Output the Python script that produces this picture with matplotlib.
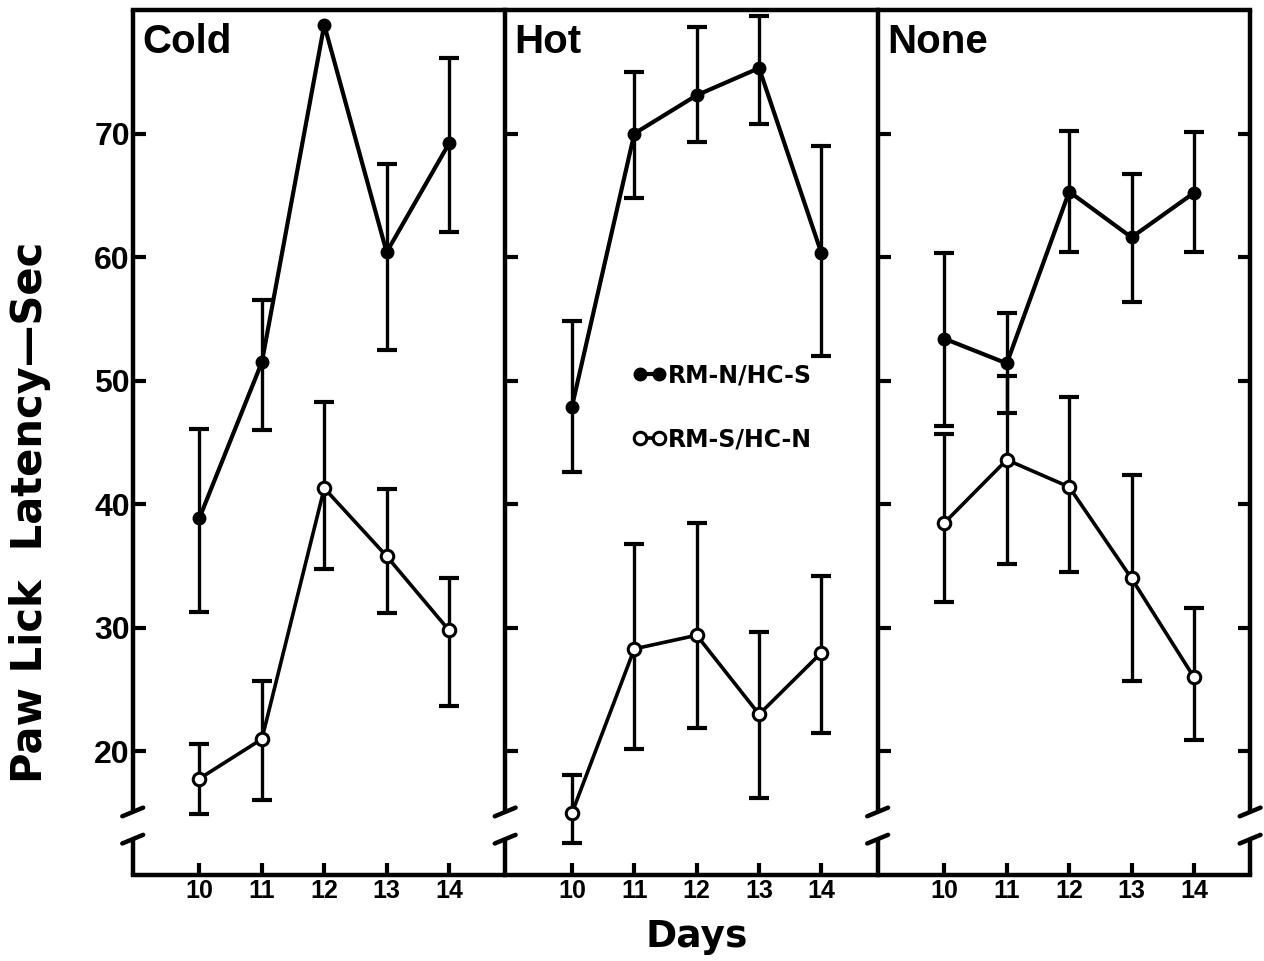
import numpy as np
import matplotlib.pyplot as plt

days = [10, 11, 12, 13, 14]
panels = ['Cold', 'Hot', 'None']

# RM-N/HC-S (filled) : mean, lower bar end, upper bar end
filled_mean = {
    'Cold': [38.9, 51.5, 78.8, 60.4, 69.2],
    'Hot': [47.9, 70.0, 73.1, 75.3, 60.3],
    'None': [53.4, 51.4, 65.3, 61.6, 65.2],
}
filled_lo = {
    'Cold': [31.3, 46.0, np.nan, 52.5, 62.0],
    'Hot': [42.6, 64.8, 69.3, 70.8, 52.0],
    'None': [46.3, 47.4, 60.4, 56.4, 60.4],
}
filled_hi = {
    'Cold': [46.1, 56.5, np.nan, 67.5, 76.1],
    'Hot': [54.8, 75.0, 78.6, 79.5, 69.0],
    'None': [60.3, 55.5, 70.2, 66.7, 70.1],
}

# RM-S/HC-N (open)
open_mean = {
    'Cold': [17.8, 21.0, 41.3, 35.8, 29.8],
    'Hot': [15.0, 28.3, 29.4, 23.0, 28.0],
    'None': [38.5, 43.6, 41.4, 34.0, 26.0],
}
open_lo = {
    'Cold': [14.9, 16.1, 34.8, 31.2, 23.7],
    'Hot': [12.6, 20.2, 21.9, 16.2, 21.5],
    'None': [32.1, 35.2, 34.5, 25.7, 20.9],
}
open_hi = {
    'Cold': [20.6, 25.7, 48.3, 41.2, 34.0],
    'Hot': [18.1, 36.8, 38.5, 29.7, 34.2],
    'None': [45.7, 50.4, 48.7, 42.4, 31.6],
}

yticks = [20, 30, 40, 50, 60, 70]

plt.rcParams['font.family'] = ['Liberation Sans', 'DejaVu Sans']
plt.rcParams['font.weight'] = 'bold'

fig, axes = plt.subplots(1, 3, figsize=(12.64, 9.61), dpi=100, sharey=True)
fig.subplots_adjust(left=0.105, right=0.989, bottom=0.0895, top=0.9896, wspace=0)

LW = 3.2
brk_lo, brk_hi = 12.9, 15.1


def broken_spine(ax, x):
    tr = ax.get_yaxis_transform()
    ax.plot([x, x], [brk_hi, 80], transform=tr, color='k', lw=LW, clip_on=False,
            solid_capstyle='butt', zorder=5)
    ax.plot([x, x], [10, brk_lo], transform=tr, color='k', lw=LW, clip_on=False,
            solid_capstyle='butt', zorder=5)
    for yb in (brk_hi, brk_lo):
        ax.plot([x - 0.028, x + 0.028], [yb - 0.35, yb + 0.35], transform=tr,
                color='k', lw=LW, clip_on=False, solid_capstyle='round', zorder=5)


for i, (ax, name) in enumerate(zip(axes, panels)):
    m = np.array(filled_mean[name])
    lo = np.array(filled_lo[name])
    hi = np.array(filled_hi[name])
    ax.errorbar(days, m, yerr=[m - lo, hi - m], fmt='none', ecolor='k',
                elinewidth=2.4, capsize=7, capthick=3.0, zorder=2)
    ax.plot(days, m, color='k', lw=3.0, marker='o', markersize=9,
            markerfacecolor='k', markeredgecolor='k', zorder=3,
            label='RM-N/HC-S')

    m2 = np.array(open_mean[name])
    lo2 = np.array(open_lo[name])
    hi2 = np.array(open_hi[name])
    ax.errorbar(days, m2, yerr=[m2 - lo2, hi2 - m2], fmt='none', ecolor='k',
                elinewidth=2.4, capsize=7, capthick=3.0, zorder=2)
    ax.plot(days, m2, color='k', lw=2.6, marker='o', markersize=9,
            markerfacecolor='white', markeredgecolor='k', markeredgewidth=2.2,
            zorder=3, label='RM-S/HC-N')

    ax.set_xlim(8.93, 14.9)
    ax.set_ylim(10, 80)
    ax.set_xticks(days)
    ax.set_xticklabels([str(d) for d in days], fontsize=18, fontweight='bold')
    ax.set_yticks(yticks)

    ax.spines['left'].set_visible(False)
    ax.spines['right'].set_visible(False)
    ax.spines['top'].set_linewidth(LW)
    ax.spines['bottom'].set_linewidth(LW)
    broken_spine(ax, 0)
    if i == 2:
        broken_spine(ax, 1)
        ax.tick_params(axis='y', right=True)

    ax.tick_params(axis='both', direction='in', length=9, width=3, pad=3)
    ax.tick_params(axis='y', labelsize=23, pad=2)
    if i > 0:
        ax.tick_params(axis='y', labelleft=False)

    ax.text(0.025, 0.985, name, transform=ax.transAxes, fontsize=29,
            fontweight='bold', ha='left', va='top')

for lab in axes[0].get_yticklabels():
    lab.set_fontweight('bold')

axes[1].legend(loc='upper left', bbox_to_anchor=(0.285, 0.616), frameon=False,
               numpoints=2, handlelength=1.4, handletextpad=0.1,
               labelspacing=1.7, prop={'family': 'DejaVu Sans', 'weight': 'bold', 'size': 17})

fig.text(0.024, 0.467, 'Paw Lick  Latency\u2014Sec', rotation=90, ha='center',
         va='center', fontsize=30, fontweight='bold', family='DejaVu Sans')
fig.text(0.551, 0.025, 'Days', ha='center', va='center', fontsize=27,
         fontweight='bold', family='DejaVu Sans')

fig.savefig('out.png', dpi=100)
